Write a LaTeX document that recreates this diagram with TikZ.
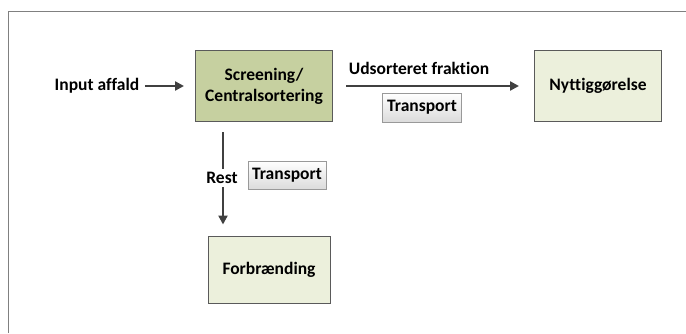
\documentclass[tikz,border=0pt]{standalone}
\usepackage{fontspec}
\setmainfont{Carlito}[Ligatures={NoCommon}]
\usetikzlibrary{arrows.meta}
\definecolor{boxline}{RGB}{90,90,90}
\definecolor{arrowgray}{RGB}{64,64,64}
\definecolor{darkgreen}{RGB}{198,208,160}
\definecolor{lightgreen}{RGB}{236,240,220}
\begin{document}
\begin{tikzpicture}[x=1pt,y=-1pt,
  font=\fontsize{17.5}{21}\selectfont\bfseries,
  procbox/.style={draw=boxline,line width=1pt,align=center,inner sep=0pt},
  transbox/.style={draw=gray!80,line width=0.8pt,top color=white,bottom color=gray!28,
    minimum width=79pt,minimum height=29pt,inner sep=0pt},
  flow/.style={draw=arrowgray,line width=2.3pt,-{Triangle[length=9pt,width=9pt]}}]
\useasboundingbox (0,0) rectangle (686,333);
\draw[gray,line width=1pt] (8,333) -- (8,11) -- (686,11);

\node[procbox,fill=darkgreen,minimum width=137pt,minimum height=71pt] (scr) at (264,86) {Screening/\\Centralsortering};
\node[procbox,fill=lightgreen,minimum width=127pt,minimum height=71pt] (nyt) at (598,86) {Nyttiggørelse};
\node[procbox,fill=lightgreen,minimum width=122pt,minimum height=67pt] (forb) at (269,269.5) {Forbrænding};

\node (input) at (97,86) {Input affald};
\node (udsort) at (419,68) {Udsorteret fraktion};
\node (rest) at (222,178) {Rest};

\node[transbox] (trans1) at (422,107.5) {Transport};
\node[transbox,minimum width=78pt,minimum height=28pt] (trans2) at (287,175) {Transport};

\draw[flow] (input) -- (scr) [shorten <=2pt,shorten >=11pt];
\draw[flow] (scr) -- (nyt) [shorten <=13pt,shorten >=15pt];
\draw[draw=arrowgray,line width=2.3pt] ([xshift=-41pt]scr.south) -- ([xshift=1pt]rest.north) [shorten <=10pt];
\draw[flow] ([xshift=1pt]rest.south) -- ([xshift=-46pt]forb.north) [shorten >=11pt];
\end{tikzpicture}
\end{document}
